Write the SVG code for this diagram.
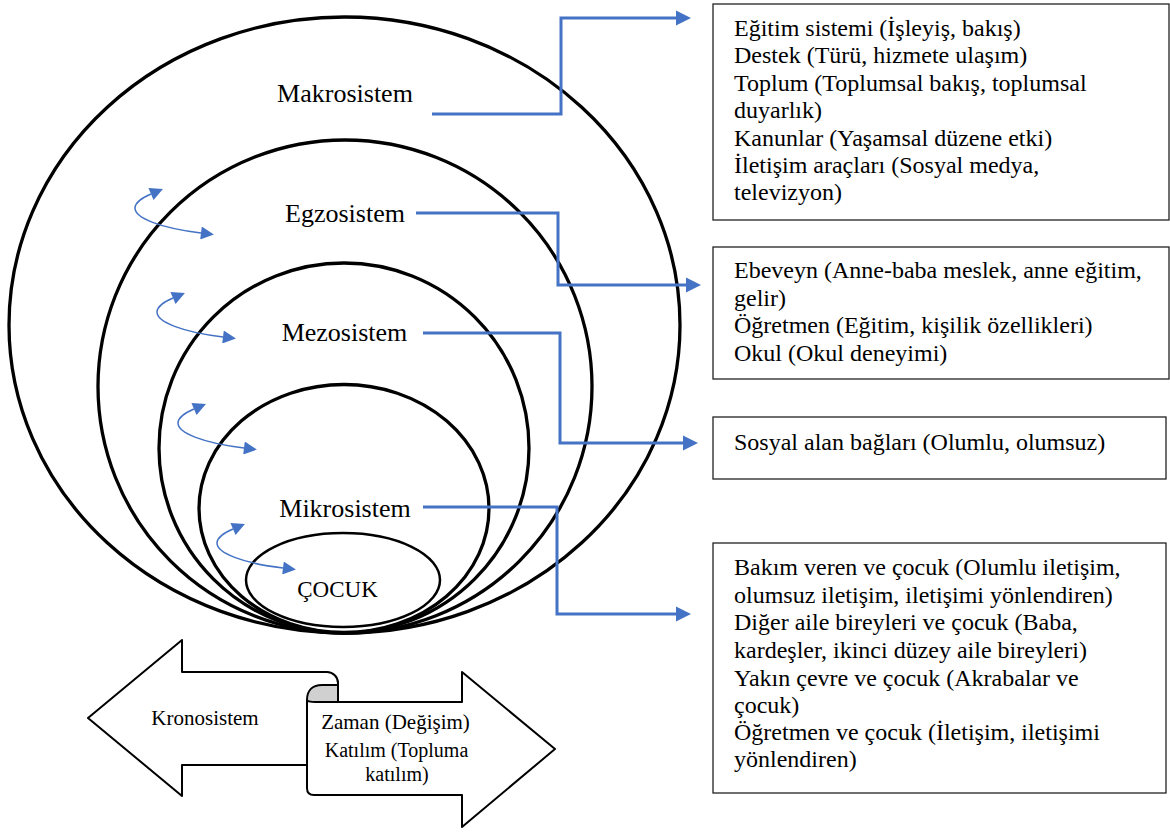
<svg xmlns="http://www.w3.org/2000/svg" width="1170" height="832" viewBox="0 0 1170 832">
<style>
.ring{fill:none;stroke:#000;stroke-width:3.3}
.lbl{font-family:"Liberation Serif","Times New Roman",serif;font-size:26px;fill:#000;text-anchor:middle}
.box{fill:#fff;stroke:#222;stroke-width:1.3}
.bt{font-family:"Liberation Serif","Times New Roman",serif;font-size:24px;fill:#000}
.conn{fill:none;stroke:#4472C4;stroke-width:3}
.cur{fill:none;stroke:#4472C4;stroke-width:1.5}
.kr{font-family:"Liberation Serif","Times New Roman",serif;font-size:21px;fill:#000}
.shape{fill:#fff;stroke:#000;stroke-width:2;stroke-linejoin:round}
</style>
<defs>
<marker id="ah" viewBox="0 0 10 10" refX="0" refY="5" markerWidth="15" markerHeight="16" markerUnits="userSpaceOnUse" orient="auto">
<path d="M0,0 L10,5 L0,10 z" fill="#4472C4"/>
</marker>
<marker id="sa" viewBox="0 0 10 10" refX="0" refY="5" markerWidth="15" markerHeight="13" markerUnits="userSpaceOnUse" orient="auto-start-reverse">
<path d="M0,0 L10,5 L0,10 z" fill="#4472C4"/>
</marker>
</defs>
<rect width="1170" height="832" fill="#fff"/>

<g id="makrosistem">
<ellipse class="ring" cx="344.5" cy="325" rx="335.5" ry="308"/>
<text class="lbl" x="345" y="102">Makrosistem</text>
</g>
<g id="egzosistem">
<ellipse class="ring" cx="345" cy="386.5" rx="247" ry="246.5"/>
<text class="lbl" x="345" y="222">Egzosistem</text>
</g>
<g id="mezosistem">
<ellipse class="ring" cx="344" cy="448" rx="185" ry="185"/>
<text class="lbl" x="344.5" y="341">Mezosistem</text>
</g>
<g id="mikrosistem">
<ellipse class="ring" cx="344" cy="508.5" rx="145" ry="124"/>
<text class="lbl" x="345" y="517">Mikrosistem</text>
</g>
<g id="cocuk">
<ellipse cx="343" cy="580" rx="97" ry="47" fill="none" stroke="#000" stroke-width="2.5"/>
<text class="lbl" x="337.5" y="597" style="font-size:23px">ÇOCUK</text>
</g>

<g id="connectors">
<path class="conn" d="M432,114 H561 V18 H676" marker-end="url(#ah)"/>
<path class="conn" d="M416,213 H558 V285 H686" marker-end="url(#ah)"/>
<path class="conn" d="M423,333 H560 V443 H683" marker-end="url(#ah)"/>
<path class="conn" d="M423,507 H557 V614 H676" marker-end="url(#ah)"/>
<path class="cur" transform="translate(135,208)" d="M16,-14 C9,-11 0,-6 0,0 C0,10 25,20 66,25" marker-start="url(#sa)" marker-end="url(#sa)"/>
<path class="cur" transform="translate(157,312)" d="M16,-14 C9,-11 0,-6 0,0 C0,10 25,20 66,25" marker-start="url(#sa)" marker-end="url(#sa)"/>
<path class="cur" transform="translate(178,423)" d="M16,-14 C9,-11 0,-6 0,0 C0,10 25,20 66,25" marker-start="url(#sa)" marker-end="url(#sa)"/>
<path class="cur" transform="translate(217,543)" d="M16,-14 C9,-11 0,-6 0,0 C0,10 25,20 66,25" marker-start="url(#sa)" marker-end="url(#sa)"/>
</g>

<g id="box-makro">
<rect class="box" x="713" y="4" width="456" height="216"/>
<text class="bt" x="734" y="36">Eğitim sistemi (İşleyiş, bakış)</text>
<text class="bt" x="734" y="63">Destek (Türü, hizmete ulaşım)</text>
<text class="bt" x="734" y="91">Toplum (Toplumsal bakış, toplumsal</text>
<text class="bt" x="734" y="118">duyarlık)</text>
<text class="bt" x="734" y="146">Kanunlar (Yaşamsal düzene etki)</text>
<text class="bt" x="734" y="173">İletişim araçları (Sosyal medya,</text>
<text class="bt" x="734" y="200">televizyon)</text>
</g>
<g id="box-egzo">
<rect class="box" x="713" y="247" width="456" height="132"/>
<text class="bt" x="734" y="278">Ebeveyn (Anne-baba meslek, anne eğitim,</text>
<text class="bt" x="734" y="306">gelir)</text>
<text class="bt" x="734" y="333">Öğretmen (Eğitim, kişilik özellikleri)</text>
<text class="bt" x="734" y="361">Okul (Okul deneyimi)</text>
</g>
<g id="box-mezo">
<rect class="box" x="713" y="417" width="453" height="62"/>
<text class="bt" x="734" y="450">Sosyal alan bağları (Olumlu, olumsuz)</text>
</g>
<g id="box-mikro">
<rect class="box" x="713" y="543" width="453" height="250"/>
<text class="bt" x="734" y="575">Bakım veren ve çocuk (Olumlu iletişim,</text>
<text class="bt" x="734" y="603">olumsuz iletişim, iletişimi yönlendiren)</text>
<text class="bt" x="734" y="630">Diğer aile bireyleri ve çocuk (Baba,</text>
<text class="bt" x="734" y="658">kardeşler, ikinci düzey aile bireyleri)</text>
<text class="bt" x="734" y="686">Yakın çevre ve çocuk (Akrabalar ve</text>
<text class="bt" x="734" y="713">çocuk)</text>
<text class="bt" x="734" y="740">Öğretmen ve çocuk (İletişim, iletişimi</text>
<text class="bt" x="734" y="767">yönlendiren)</text>
</g>

<g id="kronosistem">
<path class="shape" d="M88,718 L182,640 V672 H327 C333,672 338,677 338,683 V702 H462 V672 L555,749 L462,827 V795 H314 Q307,795 307,788 V765 H182 V796 Z"/>
<path d="M307,765 V700" fill="none" stroke="#000" stroke-width="2"/>
<path d="M307,700 C307,690 313,685 322,685 H338 V702 H316 C310,702 307,701 307,700 Z" fill="#D0D0D0" stroke="#000" stroke-width="2" stroke-linejoin="round"/>
<text class="kr" x="205" y="725" text-anchor="middle">Kronosistem</text>
<text class="kr" x="395.5" y="729" text-anchor="middle">Zaman (Değişim)</text>
<text class="kr" x="396.5" y="757" text-anchor="middle" style="font-size:20px">Katılım (Topluma</text>
<text class="kr" x="397" y="781" text-anchor="middle" style="font-size:20px">katılım)</text>
</g>
</svg>
